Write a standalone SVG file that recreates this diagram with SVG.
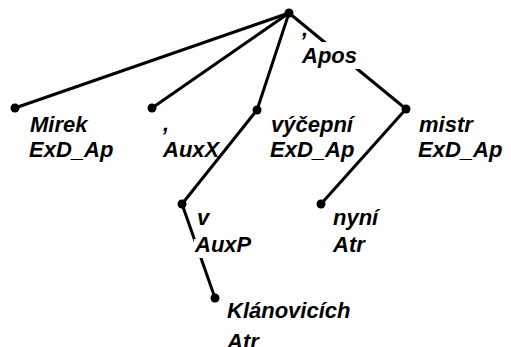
<svg xmlns="http://www.w3.org/2000/svg" width="511" height="347" viewBox="0 0 511 347">
<style>
.e{stroke:#000;stroke-width:3;stroke-linecap:round;fill:none}
.n{fill:#000}
.t{font-family:"Liberation Sans",Arial,sans-serif;font-size:22px;font-weight:bold;font-style:italic;fill:#000}
.bg{fill:#fff}
</style>
<rect width="511" height="347" fill="#fff"/>
<g id="connectors">
<line class="e" x1="289" y1="13" x2="15" y2="108"/>
<line class="e" x1="289" y1="13" x2="152" y2="108"/>
<line class="e" x1="289" y1="13" x2="257" y2="110"/>
<line class="e" x1="289" y1="13" x2="406" y2="109"/>
<line class="e" x1="257" y1="110" x2="182" y2="204"/>
<line class="e" x1="406" y1="109" x2="321" y2="204"/>
<line class="e" x1="182" y1="204" x2="215" y2="298"/>
</g>
<g id="root"><circle class="n" cx="289" cy="13" r="4.5"/></g>
<g id="apos">
<rect class="bg" x="299" y="42" width="64" height="27"/>
<text class="t" x="302" y="36">,</text>
<text class="t" x="302" y="63">Apos</text>
</g>
<g id="mirek">
<circle class="n" cx="15" cy="108" r="4.5"/>
<text class="t" x="30" y="132">Mirek</text>
<text class="t" x="29" y="157">ExD_Ap</text>
</g>
<g id="auxx">
<circle class="n" cx="152" cy="108" r="4.5"/>
<text class="t" x="163" y="131">,</text>
<text class="t" x="163" y="157">AuxX</text>
</g>
<g id="vycepni">
<circle class="n" cx="257" cy="110" r="4.5"/>
<text class="t" x="271" y="132">výčepní</text>
<text class="t" x="270" y="157">ExD_Ap</text>
</g>
<g id="mistr">
<circle class="n" cx="406" cy="109" r="4.5"/>
<text class="t" x="419" y="132">mistr</text>
<text class="t" x="418" y="157">ExD_Ap</text>
</g>
<g id="v">
<circle class="n" cx="182" cy="204" r="4.5"/>
<rect class="bg" x="194" y="239" width="60" height="19"/>
<text class="t" x="197" y="225">v</text>
<text class="t" x="195" y="252">AuxP</text>
</g>
<g id="nyni">
<circle class="n" cx="321" cy="204" r="4.5"/>
<text class="t" x="333" y="225">nyní</text>
<text class="t" x="333" y="252">Atr</text>
</g>
<g id="klanovicich">
<circle class="n" cx="215" cy="298" r="4.5"/>
<text class="t" x="227" y="318">Klánovicích</text>
<text class="t" x="227" y="349">Atr</text>
</g>
</svg>
